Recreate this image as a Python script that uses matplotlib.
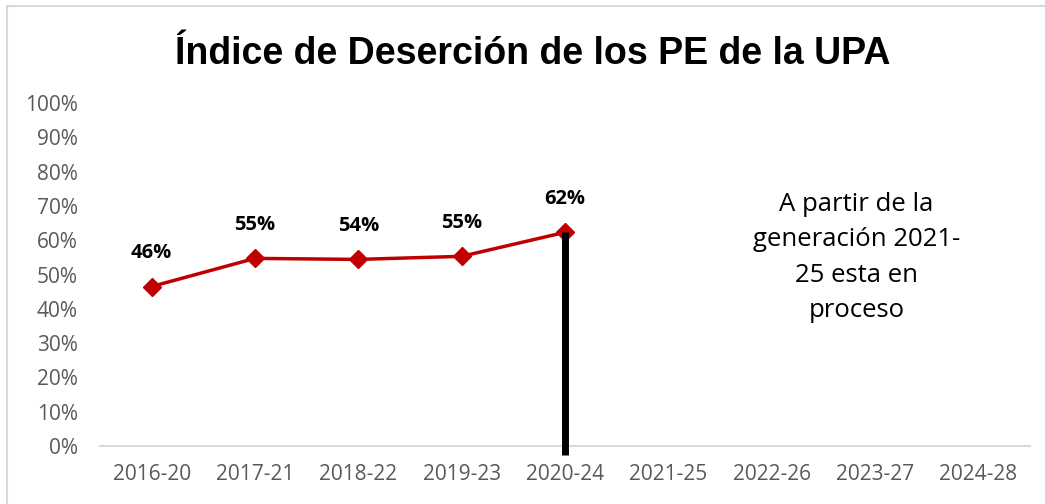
import matplotlib
matplotlib.use("Agg")
import matplotlib.pyplot as plt
from matplotlib.lines import Line2D

# Data
categories = ["2016-20", "2017-21", "2018-22", "2019-23", "2020-24",
              "2021-25", "2022-26", "2023-27", "2024-28"]
values = [0.465, 0.547, 0.544, 0.553, 0.623]
labels = ["46%", "55%", "54%", "55%", "62%"]
y_ticks = [i / 10 for i in range(11)]
note = "A partir de la\ngeneración 2021-\n25 esta en\nproceso"

fig = plt.figure(figsize=(10.45, 5.04), dpi=100)
ax = fig.add_axes([0.0957, 0.1151, 0.89, 0.6805])

x = list(range(len(values)))
ax.plot(x, values, color="#c00000", lw=2.5, marker="D", markersize=9,
        markerfacecolor="#c00000", markeredgecolor="#c00000", zorder=3)

for xi, v, lab in zip(x, values, labels):
    ax.annotate(lab, (xi, v), textcoords="offset points", xytext=(0, 17),
                ha="center", va="bottom", fontsize=14.5, fontweight="bold",
                family="Open Sans", color="black")

# black marker line at the last closed generation
ax.plot([x[-1], x[-1]], [values[-1], -0.026], color="black", lw=5,
        solid_capstyle="butt", clip_on=False, zorder=4)

ax.text(6.82, 0.55, note, ha="center", va="center", fontsize=18.5,
        family="Open Sans", color="black", linespacing=1.55)

ax.set_xlim(-0.5, len(categories) - 0.5)
ax.set_ylim(0, 1)
ax.set_xticks(range(len(categories)))
ax.set_xticklabels(categories)
ax.set_yticks(y_ticks)
ax.set_yticklabels([f"{int(round(t * 100))}%" for t in y_ticks])
for lbl in ax.get_xticklabels() + ax.get_yticklabels():
    lbl.set_fontfamily("Open Sans")
    lbl.set_fontsize(15)
    lbl.set_color("#595959")
ax.tick_params(length=0)
ax.tick_params(axis="x", pad=13)
ax.tick_params(axis="y", pad=16)

for s in ["top", "right", "left"]:
    ax.spines[s].set_visible(False)
ax.spines["bottom"].set_color("#d9d9d9")
ax.spines["bottom"].set_linewidth(1.5)

fig.text(0.51, 0.892, "Índice de Deserción de los PE de la UPA", ha="center",
         va="center", fontsize=27, fontweight="bold", family="Liberation Sans")

# chart frame (top and left edges visible)
fig.add_artist(Line2D([0.0067, 1.0], [0.988, 0.988], color="#d9d9d9", lw=1.5))
fig.add_artist(Line2D([0.0067, 0.0067], [0.0, 0.988], color="#d9d9d9", lw=1.5))

fig.savefig("out.png", dpi=100)
